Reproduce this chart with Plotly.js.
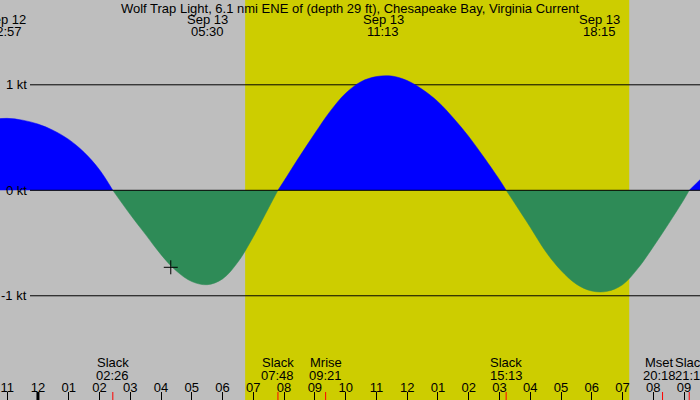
<!DOCTYPE html>
<html>
<head>
<meta charset="utf-8">
<script src="https://cdn.plot.ly/plotly-3.0.1.min.js"></script>
<style>
  html, body { margin: 0; padding: 0; background: #BEBEBE; }
  #chart { width: 700px; height: 400px; }
</style>
</head>
<body>
<div id="chart"></div>
<script>
// current speed (kt), flood positive, ebb negative
const times = [
  '2024-09-12 22:30', '2024-09-12 23:00', '2024-09-12 23:30', '2024-09-13 00:00', '2024-09-13 00:30',
  '2024-09-13 01:00', '2024-09-13 01:30', '2024-09-13 02:00', '2024-09-13 02:26',
  '2024-09-13 03:00', '2024-09-13 03:30', '2024-09-13 04:00', '2024-09-13 04:30', '2024-09-13 05:00',
  '2024-09-13 05:30', '2024-09-13 06:00', '2024-09-13 06:30', '2024-09-13 07:00', '2024-09-13 07:30',
  '2024-09-13 07:48', '2024-09-13 08:00', '2024-09-13 08:30', '2024-09-13 09:00', '2024-09-13 09:30',
  '2024-09-13 10:00', '2024-09-13 10:30', '2024-09-13 11:00', '2024-09-13 11:30',
  '2024-09-13 12:00', '2024-09-13 12:30', '2024-09-13 13:00', '2024-09-13 13:30', '2024-09-13 14:00',
  '2024-09-13 14:30', '2024-09-13 15:00', '2024-09-13 15:13', '2024-09-13 15:30', '2024-09-13 16:00',
  '2024-09-13 16:30', '2024-09-13 17:00', '2024-09-13 17:30', '2024-09-13 18:00',
  '2024-09-13 18:30', '2024-09-13 19:00', '2024-09-13 19:30', '2024-09-13 20:00', '2024-09-13 20:30',
  '2024-09-13 21:00', '2024-09-13 21:10', '2024-09-13 21:32'
]
const speeds = [
  0.672, 0.682, 0.665, 0.628, 0.568,
  0.482, 0.36, 0.195, 0,
  -0.23, -0.42, -0.61, -0.765, -0.865,
  -0.895, -0.84, -0.68, -0.44, -0.165,
  0, 0.09, 0.32, 0.54, 0.75,
  0.92, 1.03, 1.078, 1.083,
  1.04, 0.955, 0.84, 0.685, 0.51,
  0.31, 0.10, 0, -0.125, -0.35,
  -0.58, -0.76, -0.89, -0.955,
  -0.958, -0.895, -0.74, -0.535, -0.315,
  -0.085, 0, 0.105
]

// max / min current labels along the top
const peakTimes = ['2024-09-12 22:57', '2024-09-13 05:30', '2024-09-13 11:13', '2024-09-13 18:15']
const peakDays = ['Sep 12', 'Sep 13', 'Sep 13', 'Sep 13']
const peakClock = ['22:57', '05:30', '11:13', '18:15']

// slack water and moon events along the bottom
const eventTimes = ['2024-09-13 02:26', '2024-09-13 07:48', '2024-09-13 09:21', '2024-09-13 15:13', '2024-09-13 20:18', '2024-09-13 21:10']
const eventNames = ['Slack', 'Slack', 'Mrise', 'Slack', 'Mset', 'Slack']
const eventClock = ['02:26', '07:48', '09:21', '15:13', '20:18', '21:10']
const eventShift = [0, 0, 0, 0, -3, 2]

const sunrise = '2024-09-13 06:44'
const sunset = '2024-09-13 19:13'
const midnight = '2024-09-13 00:00'
const nowTime = ['2024-09-13 04:19']
const nowSpeed = [-0.73]

const ktTicks = [1, 0, -1]
const ktLabels = ['1 kt', '0 kt', '-1 kt']

const font = 'Liberation Sans, Arial, sans-serif'

const floodY = speeds.map(v => (v >= 0 ? v : null))
const ebbY = speeds.map(v => (v <= 0 ? v : null))

const data = [
  {
    x: times,
    y: floodY,
    type: 'scatter',
    mode: 'lines',
    fill: 'tozeroy',
    fillcolor: '#0000FF',
    line: { color: '#0000FF', width: 0.5, shape: 'spline', smoothing: 1 },
    hoverinfo: 'skip'
  },
  {
    x: times,
    y: ebbY,
    type: 'scatter',
    mode: 'lines',
    fill: 'tozeroy',
    fillcolor: '#2E8B57',
    line: { color: '#2E8B57', width: 0.5, shape: 'spline', smoothing: 1 },
    hoverinfo: 'skip'
  },
  {
    x: nowTime,
    y: nowSpeed,
    type: 'scatter',
    mode: 'markers',
    marker: { symbol: 'cross-thin', size: 10, line: { color: '#000000', width: 1 } },
    hoverinfo: 'skip'
  }
]

const shapes = []
// daylight
shapes.push({
  type: 'rect', xref: 'x', yref: 'paper', x0: sunrise, x1: sunset, y0: 0, y1: 1,
  fillcolor: '#CDCD00', line: { width: 0 }, layer: 'below'
})
// kt lines
ktTicks.forEach((v) => {
  shapes.push({
    type: 'line', xref: 'paper', yref: 'y', x0: 30 / 700, x1: 1, y0: v, y1: v,
    line: { color: '#000000', width: 1 }, layer: v === 0 ? 'above' : 'below'
  })
})
// midnight tick
shapes.push({
  type: 'line', xref: 'x', yref: 'paper', x0: midnight, x1: midnight, y0: 0, y1: 0.02,
  line: { color: '#000000', width: 3 }
})
// event ticks
eventTimes.forEach((t) => {
  shapes.push({
    type: 'line', xref: 'x', yref: 'paper', x0: t, x1: t, y0: 0, y1: 0.02,
    line: { color: '#FF0000', width: 1 }
  })
})

const annotations = []
const txt = { family: font, size: 13, color: '#000000' }
peakTimes.forEach((t, i) => {
  annotations.push({ x: t, xref: 'x', y: 1 - 19.5 / 400, yref: 'paper', text: peakDays[i], showarrow: false, font: txt, xanchor: 'center', yanchor: 'middle' })
  annotations.push({ x: t, xref: 'x', y: 1 - 32 / 400, yref: 'paper', text: peakClock[i], showarrow: false, font: txt, xanchor: 'center', yanchor: 'middle' })
})
eventTimes.forEach((t, i) => {
  annotations.push({ x: t, xref: 'x', xshift: eventShift[i], y: 1 - 362 / 400, yref: 'paper', text: eventNames[i], showarrow: false, font: txt, xanchor: 'center', yanchor: 'middle' })
  annotations.push({ x: t, xref: 'x', xshift: eventShift[i], y: 1 - 375 / 400, yref: 'paper', text: eventClock[i], showarrow: false, font: txt, xanchor: 'center', yanchor: 'middle' })
})
ktTicks.forEach((v, i) => {
  annotations.push({ x: 28.5 / 700, xref: 'paper', y: v, yref: 'y', text: ktLabels[i], showarrow: false, font: txt, xanchor: 'right', yanchor: 'middle' })
})

const layout = {
  width: 700,
  height: 400,
  margin: { l: 0, r: 0, t: 0, b: 0 },
  paper_bgcolor: '#BEBEBE',
  plot_bgcolor: '#BEBEBE',
  showlegend: false,
  title: {
    text: 'Wolf Trap Light, 6.1 nmi ENE of (depth 29 ft), Chesapeake Bay, Virginia Current',
    font: txt,
    x: 0.5,
    xanchor: 'center',
    y: 1 - 8 / 400,
    yanchor: 'middle'
  },
  xaxis: {
    type: 'date',
    range: ['2024-09-12 22:46', '2024-09-13 21:31'],
    tick0: midnight,
    dtick: 3600000,
    tickformat: '%I',
    ticks: 'inside',
    ticklen: 8,
    tickcolor: '#000000',
    ticklabelposition: 'inside',
    ticklabelstandoff: -3,
    tickfont: txt,
    showgrid: false,
    zeroline: false,
    showline: false,
    fixedrange: true
  },
  yaxis: {
    range: [-1.988, 1.804],
    showticklabels: false,
    showgrid: false,
    zeroline: false,
    showline: false,
    ticks: '',
    fixedrange: true
  },
  shapes: shapes,
  annotations: annotations
}

Plotly.newPlot('chart', data, layout, { displayModeBar: false, staticPlot: true })
</script>
</body>
</html>
